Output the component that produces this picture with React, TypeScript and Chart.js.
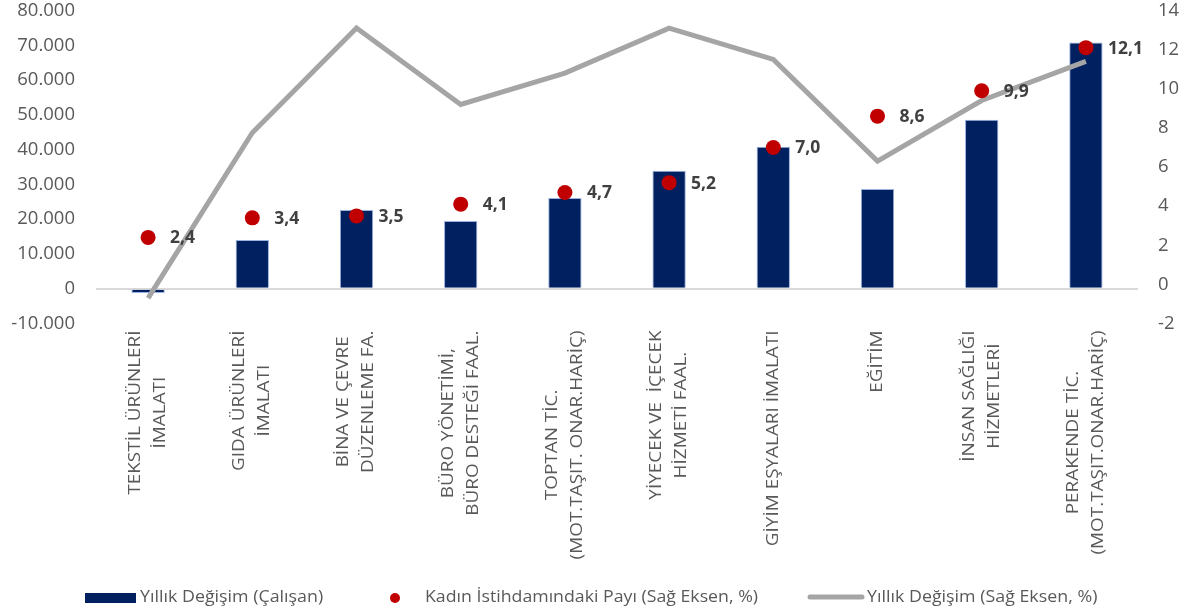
import React, { useEffect, useRef } from "react";
import { Chart, registerables } from "chart.js";

Chart.register(...registerables);

const categories: string[][] = [
  ["TEKSTİL ÜRÜNLERİ", "İMALATI"],
  ["GIDA ÜRÜNLERİ", "İMALATI"],
  ["BİNA VE ÇEVRE", "DÜZENLEME FA."],
  ["BÜRO YÖNETİMİ,", "BÜRO DESTEĞİ FAAL."],
  ["TOPTAN TİC.", "(MOT.TAŞIT. ONAR.HARİÇ)"],
  ["YİYECEK VE  İÇECEK", "HİZMETİ FAAL."],
  ["GİYİM EŞYALARI İMALATI"],
  ["EĞİTİM"],
  ["İNSAN SAĞLIĞI", "HİZMETLERİ"],
  ["PERAKENDE TİC.", "(MOT.TAŞIT.ONAR.HARİÇ)"],
];

const employeeChange: number[] = [-1200, 14000, 22600, 19500, 26100, 33900, 40800, 28700, 48600, 70800];
const womenShare: number[] = [2.4, 3.4, 3.5, 4.1, 4.7, 5.2, 7.0, 8.6, 9.9, 12.1];
const annualChangePct: number[] = [-0.7, 7.75, 13.1, 9.2, 10.8, 13.1, 11.5, 6.3, 9.4, 11.4];

const legendLabels: string[] = [
  "Yıllık Değişim (Çalışan)",
  "Kadın İstihdamındaki Payı (Sağ Eksen, %)",
  "Yıllık Değişim (Sağ Eksen, %)",
];

const BAR_COLOR = "#002060";
const DOT_COLOR = "#C00000";
const LINE_COLOR = "#A5A5A5";
const TEXT_COLOR = "#595959";
const FONT = "'Open Sans', 'Noto Sans', sans-serif";

function fmtThousands(v: number): string {
  const s = String(Math.abs(Math.round(v))).replace(/\B(?=(\d{3})+(?!\d))/g, ".");
  return (v < 0 ? "-" : "") + s;
}

function fitText(ctx: CanvasRenderingContext2D, text: string, x: number, y: number, w: number) {
  const m = ctx.measureText(text).width;
  const sx = Math.min(1.15, w / m);
  ctx.save();
  ctx.translate(x, y);
  ctx.scale(sx, 1);
  ctx.fillText(text, 0, 0);
  ctx.restore();
}

const LABEL_STRETCH = 1.22;

const overlayPlugin = {
  id: "overlay",
  afterDatasetsDraw(chart: any) {
    const ctx: CanvasRenderingContext2D = chart.ctx;
    const meta = chart.getDatasetMeta(2);
    ctx.save();
    ctx.font = `bold 17.5px ${FONT}`;
    ctx.fillStyle = "#404040";
    ctx.textAlign = "left";
    ctx.textBaseline = "middle";
    meta.data.forEach((pt: any, i: number) => {
      ctx.fillText(womenShare[i].toFixed(1).replace(".", ","), pt.x + 22, pt.y + 1);
    });
    ctx.restore();
  },
  afterDraw(chart: any) {
    const ctx: CanvasRenderingContext2D = chart.ctx;
    const xs = chart.scales.x;
    ctx.save();
    ctx.font = `15.5px ${FONT}`;
    ctx.fillStyle = TEXT_COLOR;
    ctx.textAlign = "center";
    ctx.textBaseline = "middle";
    const top = chart.chartArea.bottom + 7;
    const lh = 25;
    categories.forEach((lines, i) => {
      const x = xs.getPixelForValue(i);
      const maxW = Math.max(...lines.map((l) => ctx.measureText(l).width)) * LABEL_STRETCH;
      const cy = top + maxW / 2;
      ctx.save();
      ctx.translate(x, cy);
      ctx.rotate(-Math.PI / 2);
      ctx.scale(LABEL_STRETCH, 1);
      lines.forEach((l, j) => {
        ctx.fillText(l, 0, (j - (lines.length - 1) / 2) * lh);
      });
      ctx.restore();
    });
    ctx.restore();

    // legend
    ctx.save();
    const ly = 598;
    ctx.font = `15.5px ${FONT}`;
    ctx.textAlign = "left";
    ctx.textBaseline = "middle";
    ctx.fillStyle = BAR_COLOR;
    ctx.fillRect(85, ly - 5, 51, 10);
    ctx.fillStyle = TEXT_COLOR;
    fitText(ctx, legendLabels[0], 140, ly, 198);

    ctx.fillStyle = DOT_COLOR;
    ctx.beginPath();
    ctx.arc(395, ly, 5, 0, Math.PI * 2);
    ctx.fill();
    ctx.fillStyle = TEXT_COLOR;
    fitText(ctx, legendLabels[1], 425, ly, 333);

    ctx.strokeStyle = LINE_COLOR;
    ctx.lineWidth = 5;
    ctx.lineCap = "round";
    ctx.beginPath();
    ctx.moveTo(810, ly - 1);
    ctx.lineTo(862, ly - 1);
    ctx.stroke();
    ctx.fillStyle = TEXT_COLOR;
    fitText(ctx, legendLabels[2], 867, ly, 238);
    ctx.restore();
  },
};

export default function App() {
  const ref = useRef<HTMLCanvasElement | null>(null);
  useEffect(() => {
    if (!ref.current) return;
    const chart = new Chart(ref.current, {
      type: "bar",
      data: {
        labels: categories.map((c) => c.join(" ")),
        datasets: [
          {
            type: "bar",
            label: legendLabels[0],
            data: employeeChange,
            backgroundColor: BAR_COLOR,
            borderColor: "rgba(143,170,220,0.9)",
            borderWidth: 1,
            barPercentage: 0.32,
            categoryPercentage: 1,
            yAxisID: "y",
            order: 3,
          },
          {
            type: "line",
            label: legendLabels[2],
            data: annualChangePct,
            borderColor: LINE_COLOR,
            borderWidth: 5,
            pointRadius: 0,
            tension: 0,
            yAxisID: "y1",
            order: 2,
          } as any,
          {
            type: "line",
            label: legendLabels[1],
            data: womenShare,
            showLine: false,
            pointRadius: 7.5,
            pointBackgroundColor: DOT_COLOR,
            pointBorderColor: DOT_COLOR,
            pointBorderWidth: 0,
            yAxisID: "y1",
            order: 1,
          } as any,
        ],
      },
      options: {
        animation: false,
        responsive: true,
        maintainAspectRatio: false,
        layout: { padding: { top: 10.5, bottom: 291.5, left: 0, right: 0 } },
        plugins: {
          legend: { display: false },
          tooltip: { enabled: false },
        },
        scales: {
          x: {
            display: false,
          },
          y: {
            position: "left",
            min: -10000,
            max: 80000,
            ticks: {
              stepSize: 10000,
              color: TEXT_COLOR,
              font: { family: FONT, size: 18.5 },
              padding: 21,
              callback: (v: any) => fmtThousands(Number(v)),
            },
            grid: {
              drawTicks: false,
              color: (c: any) => (c.tick && c.tick.value === 0 ? "#D9D9D9" : "rgba(0,0,0,0)"),
              lineWidth: 2,
            },
            border: { display: false },
            afterFit: (s: any) => {
              s.width = 96;
              s.paddingTop = 0;
              s.paddingBottom = 0;
            },
          },
          y1: {
            position: "right",
            min: -2,
            max: 14,
            ticks: {
              stepSize: 2,
              color: TEXT_COLOR,
              font: { family: FONT, size: 18.5 },
              padding: 20,
            },
            grid: { display: false, drawTicks: false },
            border: { display: false },
            afterFit: (s: any) => {
              s.width = 50;
              s.paddingTop = 0;
              s.paddingBottom = 0;
            },
          },
        },
      } as any,
      plugins: [overlayPlugin],
    });
    return () => chart.destroy();
  }, []);
  return (
    <div style={{ position: "fixed", left: 0, top: 0, width: 1188, height: 615, background: "#fff" }}>
      <canvas ref={ref} />
    </div>
  );
}
